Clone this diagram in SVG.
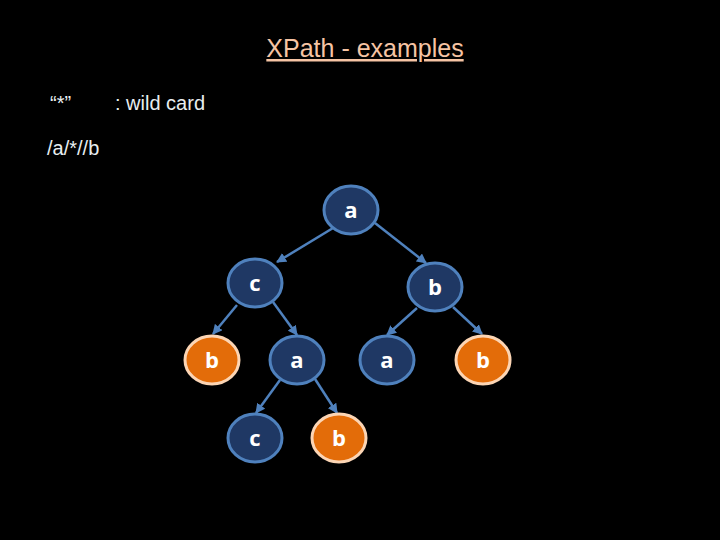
<svg xmlns="http://www.w3.org/2000/svg" width="720" height="540" viewBox="0 0 720 540">
<defs>
<style>
.t{font-family:"Liberation Sans",Arial,sans-serif;fill:#e8eef0;font-size:20px}
.n{stroke-width:3}
.blue{fill:#1f3864;stroke:#4f81bd}
.or{fill:#e36c09;stroke:#fcd5b4}
.l{font-family:"Open Sans","Liberation Sans",sans-serif;font-weight:bold;fill:#fff;font-size:22px;text-anchor:middle}
.e{stroke:#4f81bd;stroke-width:2.5;fill:none;marker-end:url(#ar)}
</style>
<marker id="ar" viewBox="0 0 10 10" refX="9" refY="5" markerWidth="4" markerHeight="4" orient="auto"><path d="M0,0L10,5L0,10z" fill="#4f81bd"/></marker>
</defs>
<rect width="720" height="540" fill="#000"/>
<text x="365" y="57" text-anchor="middle" style="font-family:'Liberation Sans',sans-serif;font-size:25px;fill:#f6c4a4;text-decoration:underline">XPath - examples</text>
<text class="t" x="50" y="110">“*”</text>
<text class="t" x="115" y="110">:  wild card</text>
<text class="t" x="47" y="155">/a/*//b</text>
<g id="connectors">
<line class="e" x1="338" y1="225" x2="277" y2="262"/>
<line class="e" x1="375" y1="223" x2="426" y2="263"/>
<line class="e" x1="237" y1="305" x2="213" y2="334"/>
<line class="e" x1="273" y1="302" x2="297" y2="335"/>
<line class="e" x1="417" y1="308" x2="387" y2="335"/>
<line class="e" x1="453" y1="307" x2="482" y2="334"/>
<line class="e" x1="280" y1="380" x2="256" y2="413"/>
<line class="e" x1="315" y1="379" x2="337" y2="413"/>
</g>
<g id="n1"><ellipse class="n blue" cx="351" cy="210" rx="27" ry="24"/><text class="l" x="351" y="218">a</text></g>
<g id="n2"><ellipse class="n blue" cx="255" cy="283" rx="27" ry="24"/><text class="l" x="255" y="291">c</text></g>
<g id="n3"><ellipse class="n blue" cx="435" cy="287" rx="27" ry="24"/><text class="l" x="435" y="295">b</text></g>
<g id="n4"><ellipse class="n or" cx="212" cy="360" rx="27" ry="24"/><text class="l" x="212" y="368">b</text></g>
<g id="n5"><ellipse class="n blue" cx="297" cy="360" rx="27" ry="24"/><text class="l" x="297" y="368">a</text></g>
<g id="n6"><ellipse class="n blue" cx="387" cy="360" rx="27" ry="24"/><text class="l" x="387" y="368">a</text></g>
<g id="n7"><ellipse class="n or" cx="483" cy="360" rx="27" ry="24"/><text class="l" x="483" y="368">b</text></g>
<g id="n8"><ellipse class="n blue" cx="255" cy="438" rx="27" ry="24"/><text class="l" x="255" y="446">c</text></g>
<g id="n9"><ellipse class="n or" cx="339" cy="438" rx="27" ry="24"/><text class="l" x="339" y="446">b</text></g>
</svg>
